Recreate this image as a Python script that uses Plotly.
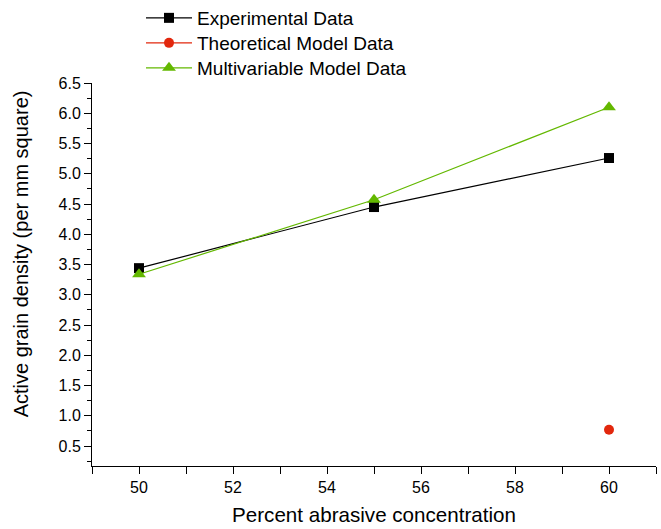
import plotly.graph_objects as go

x_exp = [50, 55, 60]
y_exp = [3.44, 4.45, 5.26]
x_theo = [60]
y_theo = [0.77]
x_multi = [50, 55, 60]
y_multi = [3.34, 4.57, 6.10]

names = ["Experimental Data", "Theoretical Model Data", "Multivariable Model Data"]
x_title = "Percent abrasive concentration"
y_title = "Active grain density (per mm square)"

FONT = "Liberation Sans, Arial, Helvetica, sans-serif"
BLACK = "#000000"
RED = "#E2270D"
GREEN = "#63B800"

fig = go.Figure()
fig.add_trace(go.Scatter(x=x_exp, y=y_exp, name=names[0], mode="lines+markers",
                         legend="legend",
                         line=dict(color=BLACK, width=1.2),
                         marker=dict(symbol="square", size=10, color=BLACK)))
fig.add_trace(go.Scatter(x=x_theo, y=y_theo, name=names[1], mode="lines+markers",
                         legend="legend2",
                         line=dict(color=RED, width=1.2),
                         marker=dict(symbol="circle", size=10, color=RED)))
fig.add_trace(go.Scatter(x=x_multi, y=y_multi, name=names[2], mode="lines+markers",
                         legend="legend3",
                         line=dict(color=GREEN, width=1.2),
                         marker=dict(symbol="triangle-up", size=12, color=GREEN)))

def leg(ypix):
    return dict(xref="container", yref="container",
                x=141 / 661, y=1 - ypix / 529, xanchor="left", yanchor="middle",
                font=dict(size=19, family=FONT, color=BLACK),
                bgcolor="rgba(0,0,0,0)", itemwidth=46)

fig.update_layout(
    width=661, height=529,
    margin=dict(l=92, r=5, t=83, b=63, autoexpand=False),
    paper_bgcolor="white", plot_bgcolor="white",
    font=dict(family=FONT, color=BLACK),
    showlegend=True,
    legend=leg(18), legend2=leg(43), legend3=leg(68),
    annotations=[dict(text=y_title, xref="paper", yref="paper",
                      x=-0.126, y=0.555, xanchor="center", yanchor="middle",
                      textangle=-90, showarrow=False,
                      font=dict(size=20, family=FONT, color=BLACK))],
)
fig.update_xaxes(range=[49, 61], tick0=50, dtick=2, ticks="outside", ticklen=7,
                 tickwidth=1, tickcolor=BLACK, showline=True, linecolor=BLACK,
                 linewidth=1, showgrid=False, zeroline=False,
                 tickfont=dict(size=16, family=FONT),
                 minor=dict(dtick=1, tick0=49, ticks="outside", ticklen=7,
                            tickcolor=BLACK, showgrid=False),
                 title=dict(text=x_title, font=dict(size=20.6, family=FONT), standoff=12))
fig.update_yaxes(range=[0.17, 6.5], tick0=0.5, dtick=0.5, tickformat=".1f",
                 ticks="outside", ticklen=7, tickwidth=1, tickcolor=BLACK,
                 showline=True, linecolor=BLACK, linewidth=1, showgrid=False,
                 zeroline=False, tickfont=dict(size=16, family=FONT),
                 minor=dict(dtick=0.25, tick0=0.25, ticks="outside", ticklen=4,
                            tickcolor=BLACK, showgrid=False))

fig.write_html("out.html")
